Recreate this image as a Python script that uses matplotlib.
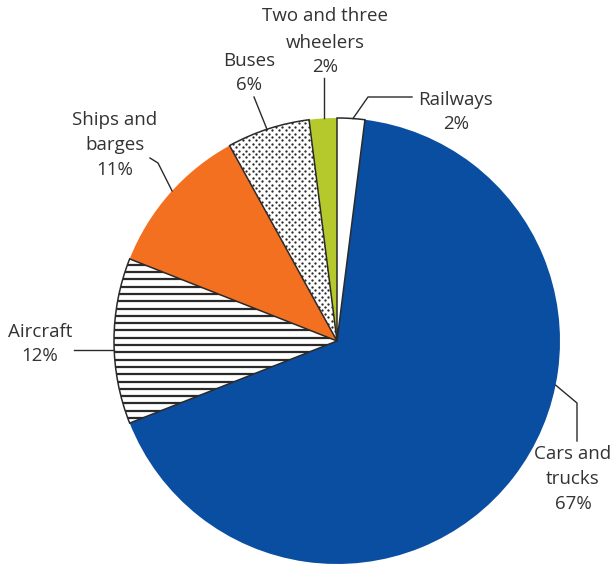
import numpy as np
import matplotlib
matplotlib.use("Agg")
import matplotlib.pyplot as plt
from matplotlib.patches import Wedge

categories = ["Railways", "Cars and\ntrucks", "Aircraft", "Ships and\nbarges", "Buses", "Two and three\nwheelers"]
values = [2, 67, 12, 11, 6, 2]
labels_pct = ["2%", "67%", "12%", "11%", "6%", "2%"]

colors = ["white", "#0a4ea2", "white", "#f37021", "white", "#b6c92c"]
edged = [True, False, True, False, True, False]

W, H = 612, 566
fig = plt.figure(figsize=(W / 100, H / 100), dpi=100)
ax = fig.add_axes([0, 0, 1, 1])
cx, cy, R = 337, 566 - 341, 223

wedges, _ = ax.pie(values, colors=colors, startangle=90, counterclock=False,
                   radius=R, center=(cx, cy), frame=True,
                   wedgeprops=dict(linewidth=0))
ink = "#2a2a2a"
for w in wedges:
    w.set_zorder(1)

# Aircraft: horizontal stripes
air = wedges[2]
ys = np.arange(cy - R, cy + R, 7.3)
lc = ax.hlines(ys, cx - R, cx + R, colors=ink, linewidth=1.6, zorder=2)
lc.set_clip_path(air)

# Buses: dotted
bus = wedges[4]
px, py = [], []
step = 6.6
for i, yy in enumerate(np.arange(cy, cy + R + 5, 3.4)):
    off = (step / 2) * (i % 2)
    for xx in np.arange(cx - R + off, cx + 10, step):
        px.append(xx)
        py.append(yy)
sc = ax.scatter(px, py, s=2.8, c=ink, linewidths=0, zorder=2)
sc.set_clip_path(bus)

# outlines for the white / patterned slices
for w, e in zip(wedges, edged):
    if e:
        ax.add_patch(Wedge(w.center, w.r, w.theta1, w.theta2, facecolor="none",
                           edgecolor=ink, linewidth=1.1, zorder=3))

ax.set_xlim(0, W)
ax.set_ylim(0, H)
ax.axis("off")

def edge(a):
    t = np.deg2rad(a)
    return cx + R * np.cos(t), cy + R * np.sin(t)

def Y(y):
    return H - y

txt = dict(fontsize=13.5, color="#333333", family="Open Sans", ha="center",
           va="center", multialignment="center", linespacing=1.48)
lw = dict(color=ink, linewidth=1.0)

# Railways
x0, y0 = edge(85.9)
ax.plot([x0, 368, 412], [y0, Y(97), Y(97)], **lw)
ax.text(456, Y(112), categories[0] + "\n" + labels_pct[0], **txt)
# Cars and trucks
x0, y0 = edge(-11.4)
ax.plot([x0, 577, 577], [y0, Y(403), Y(441)], **lw)
ax.text(573, Y(479), categories[1] + "\n" + labels_pct[1], **txt)
# Aircraft
x0, y0 = edge(182.3)
ax.plot([x0, 74], [y0, y0], **lw)
ax.text(40, Y(344), categories[2] + "\n" + labels_pct[2], **txt)
# Ships
x0, y0 = edge(137.7)
ax.plot([x0, 158, 150], [y0, Y(163), Y(158)], **lw)
ax.text(115, Y(145), categories[3] + "\n" + labels_pct[3], **txt)
# Buses
x0, y0 = edge(108.3)
ax.plot([x0, 254], [y0, Y(97)], **lw)
ax.text(249, Y(73), categories[4] + "\n" + labels_pct[4], **txt)
# Two and three wheelers (first line set apart from the rest)
x0, y0 = edge(93.4)
ax.plot([x0, x0], [y0, Y(78)], **lw)
first, rest = categories[5].split("\n", 1)
ax.text(325, Y(16), first, **txt)
ax.text(325, Y(55), rest + "\n" + labels_pct[5], **txt)

fig.savefig("out.png", dpi=100)
